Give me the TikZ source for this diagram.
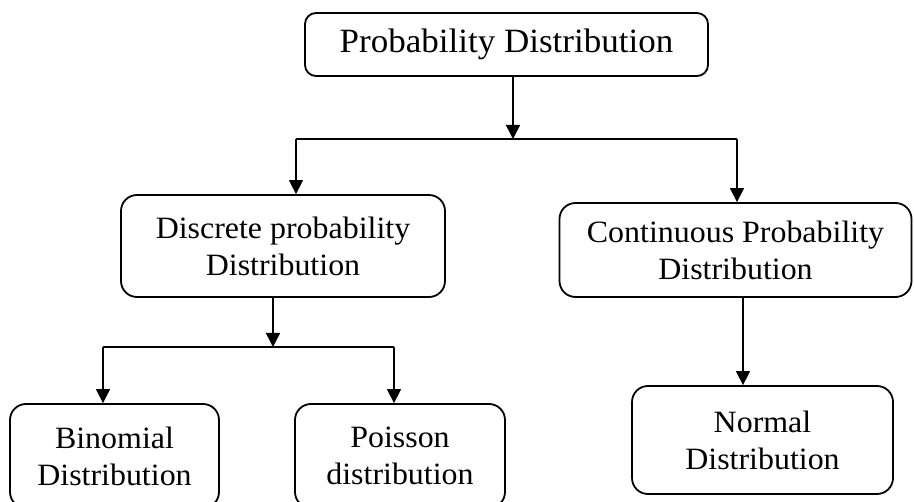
\documentclass[tikz,border=0pt]{standalone}
\usepackage{fontspec}
\setmainfont{Liberation Serif}[FakeStretch=1.03]
\usetikzlibrary{arrows.meta}
\tikzset{
  box/.style={draw, line width=1.8pt, rounded corners=16pt, align=center, inner sep=0pt,
    font=\fontsize{31}{37}\selectfont},
  topbox/.style={box, rounded corners=11pt, font=\fontsize{34}{40}\selectfont},
  conn/.style={line width=1.5pt},
  arr/.style={conn, -{Triangle[length=14pt,width=14pt]}}
}
\begin{document}
\begin{tikzpicture}[x=1pt,y=-1pt]
\useasboundingbox (0,0) rectangle (914,502);
\node[topbox, minimum width=403pt, minimum height=63pt] (top) at (506.5,44.5) {Probability Distribution};
\node[box, minimum width=324pt, minimum height=102pt] (disc) at (283,246) {Discrete probability\\Distribution};
\node[box, minimum width=352pt, minimum height=94pt] (cont) at (735.5,250) {Continuous Probability\\Distribution};
\node[box, minimum width=209pt, minimum height=104pt] (bin) at (114.5,456) {Binomial\\Distribution};
\node[box, minimum width=210pt, minimum height=104pt] (poi) at (400,456) {Poisson\\distribution};
\node[box, minimum width=261pt, minimum height=108pt] (norm) at (762.5,440) {Normal\\Distribution};
% junctions
\coordinate (j1) at (513,139);
\coordinate (jl) at (296,139);
\coordinate (jr) at (737,139);
\coordinate (j2) at (273,347);
\coordinate (kl) at (103,347);
\coordinate (kr) at (394,347);
\coordinate (jn) at (743,297);
\draw[arr] (j1 |- top.south) -- (j1);
\draw[conn] (jl) -- (jr);
\draw[arr] (jl) -- (jl |- disc.north);
\draw[arr] (jr) -- (jr |- cont.north);
\draw[arr] (j2 |- disc.south) -- (j2);
\draw[conn] (kl) -- (kr);
\draw[arr] (kl) -- (kl |- bin.north);
\draw[arr] (kr) -- (kr |- poi.north);
\draw[arr] (jn |- cont.south) -- (jn |- norm.north);
\end{tikzpicture}
\end{document}
